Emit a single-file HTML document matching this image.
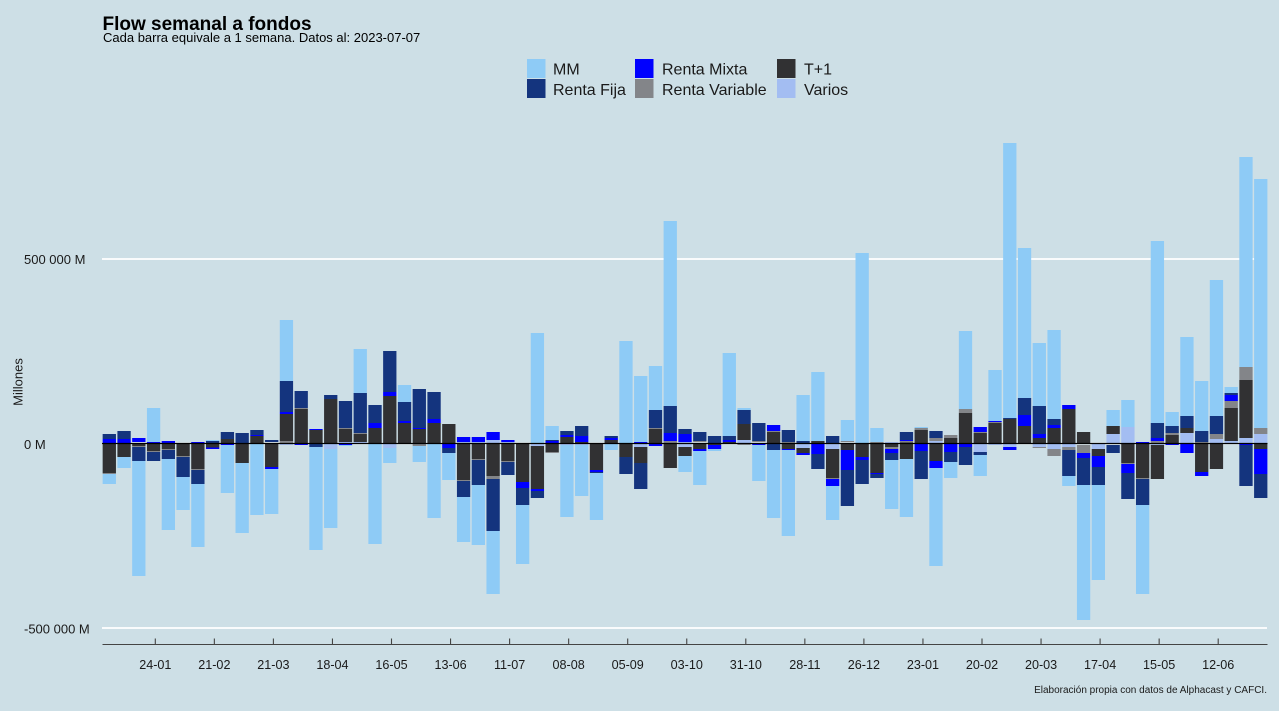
<!DOCTYPE html>
<html><head><meta charset="utf-8"><style>
html,body{margin:0;padding:0;background:#cddfe6;}
svg{display:block;font-family:"Liberation Sans",Arial,sans-serif;}
.m{fill:#8ecbf6}.f{fill:#14347e}.x{fill:#0000ff}.v{fill:#838589}.t{fill:#313133}.o{fill:#a3bdf2}
</style></head><body>
<svg width="1279" height="711" viewBox="0 0 1279 711" xmlns="http://www.w3.org/2000/svg">
<rect width="1279" height="711" fill="#cddfe6"/>
<text x="102.5" y="30" font-size="19" font-weight="bold" fill="#000">Flow semanal a fondos</text>
<text x="103" y="42" font-size="13" fill="#000">Cada barra equivale a 1 semana. Datos al: 2023-07-07</text>
<g font-size="16" fill="#1a1a1a">
<rect x="527" y="59" width="18.5" height="19" class="m"/><text x="553" y="74.5">MM</text>
<rect x="527" y="79" width="18.5" height="19" class="f"/><text x="553" y="95">Renta Fija</text>
<rect x="635" y="59" width="18.5" height="19" class="x"/><text x="662" y="74.5">Renta Mixta</text>
<rect x="635" y="79" width="18.5" height="19" class="v"/><text x="662" y="95">Renta Variable</text>
<rect x="777" y="59" width="18.5" height="19" class="t"/><text x="804" y="74.5">T+1</text>
<rect x="777" y="79" width="18.5" height="19" class="o"/><text x="804" y="95">Varios</text>
</g>
<g stroke="#ffffff" stroke-width="1.8">
<line x1="102" y1="259" x2="1267" y2="259"/>
<line x1="102" y1="443.5" x2="1267" y2="443.5"/>
<line x1="102" y1="628" x2="1267" y2="628"/>
</g>
<g font-size="13" fill="#1a1a1a">
<text x="24" y="264">500 000 M</text>
<text x="24" y="449">0 M</text>
<text x="24" y="633.5">-500 000 M</text>
</g>
<text transform="translate(22.5,382) rotate(-90)" text-anchor="middle" font-size="13" fill="#1a1a1a">Millones</text>
<g>
<g transform="translate(102.65,0)"><rect x="0" width="13.3" y="434" height="5" class="f"/><rect x="0" width="13.3" y="439" height="4.5" class="x"/><rect x="0" width="13.3" y="443.5" height="29.5" class="t"/><rect x="0" width="13.3" y="473" height="1" class="v"/><rect x="0" width="13.3" y="474" height="10" class="m"/></g>
<g transform="translate(117.41,0)"><rect x="0" width="13.3" y="431" height="8" class="f"/><rect x="0" width="13.3" y="439" height="4.5" class="x"/><rect x="0" width="13.3" y="443.5" height="13.5" class="t"/><rect x="0" width="13.3" y="457" height="11" class="m"/></g>
<g transform="translate(132.17,0)"><rect x="0" width="13.3" y="438" height="4" class="x"/><rect x="0" width="13.3" y="443.5" height="2.5" class="t"/><rect x="0" width="13.3" y="446" height="1" class="v"/><rect x="0" width="13.3" y="447" height="14" class="f"/><rect x="0" width="13.3" y="461" height="115" class="m"/></g>
<g transform="translate(146.94,0)"><rect x="0" width="13.3" y="408" height="34" class="m"/><rect x="0" width="13.3" y="442" height="1.5" class="x"/><rect x="0" width="13.3" y="443.5" height="7.5" class="t"/><rect x="0" width="13.3" y="451" height="1" class="v"/><rect x="0" width="13.3" y="452" height="9" class="f"/></g>
<g transform="translate(161.70,0)"><rect x="0" width="13.3" y="441" height="2.5" class="x"/><rect x="0" width="13.3" y="443.5" height="5.5" class="t"/><rect x="0" width="13.3" y="449" height="1" class="v"/><rect x="0" width="13.3" y="450" height="9" class="f"/><rect x="0" width="13.3" y="459" height="71" class="m"/></g>
<g transform="translate(176.46,0)"><rect x="0" width="13.3" y="443.5" height="12.5" class="t"/><rect x="0" width="13.3" y="456" height="1" class="v"/><rect x="0" width="13.3" y="457" height="20" class="f"/><rect x="0" width="13.3" y="477" height="33" class="m"/></g>
<g transform="translate(191.22,0)"><rect x="0" width="13.3" y="442" height="1.5" class="x"/><rect x="0" width="13.3" y="443.5" height="25.5" class="t"/><rect x="0" width="13.3" y="469" height="1" class="v"/><rect x="0" width="13.3" y="470" height="14" class="f"/><rect x="0" width="13.3" y="484" height="63" class="m"/></g>
<g transform="translate(205.98,0)"><rect x="0" width="13.3" y="440" height="1" class="m"/><rect x="0" width="13.3" y="441" height="2.5" class="f"/><rect x="0" width="13.3" y="444" height="3.5" class="t"/><rect x="0" width="13.3" y="447.5" height="1.5" class="x"/></g>
<g transform="translate(220.75,0)"><rect x="0" width="13.3" y="432" height="7" class="f"/><rect x="0" width="13.3" y="439" height="4.5" class="t"/><rect x="0" width="13.3" y="443.5" height="1.5" class="x"/><rect x="0" width="13.3" y="445" height="48" class="m"/></g>
<g transform="translate(235.51,0)"><rect x="0" width="13.3" y="433" height="10.5" class="f"/><rect x="0" width="13.3" y="444" height="19" class="t"/><rect x="0" width="13.3" y="463" height="70" class="m"/></g>
<g transform="translate(250.27,0)"><rect x="0" width="13.3" y="430" height="5" class="f"/><rect x="0" width="13.3" y="435" height="1" class="x"/><rect x="0" width="13.3" y="436" height="7.5" class="t"/><rect x="0" width="13.3" y="444" height="71" class="m"/></g>
<g transform="translate(265.03,0)"><rect x="0" width="13.3" y="440" height="2" class="f"/><rect x="0" width="13.3" y="443.5" height="23.5" class="t"/><rect x="0" width="13.3" y="467" height="2" class="x"/><rect x="0" width="13.3" y="469" height="45" class="m"/></g>
<g transform="translate(279.79,0)"><rect x="0" width="13.3" y="320" height="61" class="m"/><rect x="0" width="13.3" y="381" height="31" class="f"/><rect x="0" width="13.3" y="412" height="2" class="x"/><rect x="0" width="13.3" y="414" height="27" class="t"/><rect x="0" width="13.3" y="441" height="2.5" class="v"/><rect x="0" width="13.3" y="443.5" height="1.5" class="o"/></g>
<g transform="translate(294.56,0)"><rect x="0" width="13.3" y="391" height="17" class="f"/><rect x="0" width="13.3" y="408" height="1" class="v"/><rect x="0" width="13.3" y="409" height="34.5" class="t"/><rect x="0" width="13.3" y="443.5" height="1.5" class="x"/></g>
<g transform="translate(309.32,0)"><rect x="0" width="13.3" y="429" height="1" class="x"/><rect x="0" width="13.3" y="430" height="13.5" class="t"/><rect x="0" width="13.3" y="444" height="3" class="f"/><rect x="0" width="13.3" y="447" height="103" class="m"/></g>
<g transform="translate(324.08,0)"><rect x="0" width="13.3" y="395" height="4" class="f"/><rect x="0" width="13.3" y="399" height="44.5" class="t"/><rect x="0" width="13.3" y="443.5" height="5.5" class="o"/><rect x="0" width="13.3" y="449" height="79" class="m"/></g>
<g transform="translate(338.84,0)"><rect x="0" width="13.3" y="401" height="27" class="f"/><rect x="0" width="13.3" y="428" height="1" class="v"/><rect x="0" width="13.3" y="429" height="13" class="t"/><rect x="0" width="13.3" y="442" height="1.5" class="o"/><rect x="0" width="13.3" y="443.5" height="1.5" class="x"/><rect x="0" width="13.3" y="445" height="1" class="m"/></g>
<g transform="translate(353.60,0)"><rect x="0" width="13.3" y="349" height="44" class="m"/><rect x="0" width="13.3" y="393" height="40" class="f"/><rect x="0" width="13.3" y="433" height="1" class="v"/><rect x="0" width="13.3" y="434" height="8" class="t"/><rect x="0" width="13.3" y="442" height="1.5" class="o"/></g>
<g transform="translate(368.37,0)"><rect x="0" width="13.3" y="405" height="18" class="f"/><rect x="0" width="13.3" y="423" height="5" class="x"/><rect x="0" width="13.3" y="428" height="15.5" class="t"/><rect x="0" width="13.3" y="444" height="100" class="m"/></g>
<g transform="translate(383.13,0)"><rect x="0" width="13.3" y="351" height="41" class="f"/><rect x="0" width="13.3" y="392" height="4" class="x"/><rect x="0" width="13.3" y="396" height="47.5" class="t"/><rect x="0" width="13.3" y="443.5" height="4.5" class="o"/><rect x="0" width="13.3" y="448" height="15" class="m"/></g>
<g transform="translate(397.89,0)"><rect x="0" width="13.3" y="385" height="17" class="m"/><rect x="0" width="13.3" y="402" height="19" class="f"/><rect x="0" width="13.3" y="421" height="2" class="x"/><rect x="0" width="13.3" y="423" height="20.5" class="t"/></g>
<g transform="translate(412.65,0)"><rect x="0" width="13.3" y="389" height="39" class="f"/><rect x="0" width="13.3" y="428" height="1" class="x"/><rect x="0" width="13.3" y="429" height="14.5" class="t"/><rect x="0" width="13.3" y="444" height="2" class="v"/><rect x="0" width="13.3" y="446" height="16" class="m"/></g>
<g transform="translate(427.41,0)"><rect x="0" width="13.3" y="392" height="27" class="f"/><rect x="0" width="13.3" y="419" height="4" class="x"/><rect x="0" width="13.3" y="423" height="20.5" class="t"/><rect x="0" width="13.3" y="444" height="74" class="m"/></g>
<g transform="translate(442.18,0)"><rect x="0" width="13.3" y="424" height="19.5" class="t"/><rect x="0" width="13.3" y="444" height="4" class="x"/><rect x="0" width="13.3" y="448" height="5" class="f"/><rect x="0" width="13.3" y="453" height="27" class="m"/></g>
<g transform="translate(456.94,0)"><rect x="0" width="13.3" y="437" height="5" class="x"/><rect x="0" width="13.3" y="442" height="1.5" class="o"/><rect x="0" width="13.3" y="443.5" height="36.5" class="t"/><rect x="0" width="13.3" y="480" height="1" class="v"/><rect x="0" width="13.3" y="481" height="16" class="f"/><rect x="0" width="13.3" y="497" height="45" class="m"/></g>
<g transform="translate(471.70,0)"><rect x="0" width="13.3" y="437" height="5" class="x"/><rect x="0" width="13.3" y="442" height="1.5" class="o"/><rect x="0" width="13.3" y="443.5" height="15.5" class="t"/><rect x="0" width="13.3" y="459" height="1" class="v"/><rect x="0" width="13.3" y="460" height="25" class="f"/><rect x="0" width="13.3" y="485" height="60" class="m"/></g>
<g transform="translate(486.46,0)"><rect x="0" width="13.3" y="432" height="8" class="x"/><rect x="0" width="13.3" y="440" height="3.5" class="o"/><rect x="0" width="13.3" y="443.5" height="32.5" class="t"/><rect x="0" width="13.3" y="476" height="3" class="v"/><rect x="0" width="13.3" y="479" height="52" class="f"/><rect x="0" width="13.3" y="531" height="63" class="m"/></g>
<g transform="translate(501.22,0)"><rect x="0" width="13.3" y="440" height="2" class="x"/><rect x="0" width="13.3" y="442" height="1.5" class="o"/><rect x="0" width="13.3" y="443.5" height="17.5" class="t"/><rect x="0" width="13.3" y="461" height="1" class="v"/><rect x="0" width="13.3" y="462" height="13" class="f"/></g>
<g transform="translate(515.99,0)"><rect x="0" width="13.3" y="443.5" height="38.5" class="t"/><rect x="0" width="13.3" y="482" height="6" class="x"/><rect x="0" width="13.3" y="488" height="17" class="f"/><rect x="0" width="13.3" y="505" height="59" class="m"/></g>
<g transform="translate(530.75,0)"><rect x="0" width="13.3" y="333" height="110.5" class="m"/><rect x="0" width="13.3" y="443.5" height="2.5" class="o"/><rect x="0" width="13.3" y="446" height="43" class="t"/><rect x="0" width="13.3" y="489" height="2" class="x"/><rect x="0" width="13.3" y="491" height="7" class="f"/></g>
<g transform="translate(545.51,0)"><rect x="0" width="13.3" y="426" height="14" class="m"/><rect x="0" width="13.3" y="440" height="1" class="f"/><rect x="0" width="13.3" y="441" height="2.5" class="x"/><rect x="0" width="13.3" y="444" height="8" class="t"/><rect x="0" width="13.3" y="452" height="1" class="v"/></g>
<g transform="translate(560.27,0)"><rect x="0" width="13.3" y="431" height="4" class="f"/><rect x="0" width="13.3" y="435" height="2" class="x"/><rect x="0" width="13.3" y="437" height="6.5" class="t"/><rect x="0" width="13.3" y="443.5" height="1.5" class="o"/><rect x="0" width="13.3" y="445" height="72" class="m"/></g>
<g transform="translate(575.03,0)"><rect x="0" width="13.3" y="426" height="10" class="f"/><rect x="0" width="13.3" y="436" height="6" class="x"/><rect x="0" width="13.3" y="442" height="1.5" class="t"/><rect x="0" width="13.3" y="443.5" height="1.5" class="o"/><rect x="0" width="13.3" y="445" height="51" class="m"/></g>
<g transform="translate(589.80,0)"><rect x="0" width="13.3" y="443.5" height="26.5" class="t"/><rect x="0" width="13.3" y="470" height="2" class="x"/><rect x="0" width="13.3" y="472" height="1" class="f"/><rect x="0" width="13.3" y="473" height="47" class="m"/></g>
<g transform="translate(604.56,0)"><rect x="0" width="13.3" y="436" height="2" class="f"/><rect x="0" width="13.3" y="438" height="2" class="x"/><rect x="0" width="13.3" y="440" height="3.5" class="t"/><rect x="0" width="13.3" y="443.5" height="6.5" class="m"/></g>
<g transform="translate(619.32,0)"><rect x="0" width="13.3" y="341" height="102.5" class="m"/><rect x="0" width="13.3" y="443.5" height="13.5" class="t"/><rect x="0" width="13.3" y="457" height="17" class="f"/></g>
<g transform="translate(634.08,0)"><rect x="0" width="13.3" y="376" height="66" class="m"/><rect x="0" width="13.3" y="442" height="1.5" class="x"/><rect x="0" width="13.3" y="443.5" height="3.5" class="o"/><rect x="0" width="13.3" y="447" height="16" class="t"/><rect x="0" width="13.3" y="463" height="26" class="f"/></g>
<g transform="translate(648.84,0)"><rect x="0" width="13.3" y="366" height="44" class="m"/><rect x="0" width="13.3" y="410" height="18" class="f"/><rect x="0" width="13.3" y="428" height="1" class="v"/><rect x="0" width="13.3" y="429" height="14.5" class="t"/><rect x="0" width="13.3" y="444" height="2" class="x"/></g>
<g transform="translate(663.61,0)"><rect x="0" width="13.3" y="221" height="185" class="m"/><rect x="0" width="13.3" y="406" height="27" class="f"/><rect x="0" width="13.3" y="433" height="8" class="x"/><rect x="0" width="13.3" y="441" height="2.5" class="v"/><rect x="0" width="13.3" y="443.5" height="24.5" class="t"/></g>
<g transform="translate(678.37,0)"><rect x="0" width="13.3" y="429" height="5" class="f"/><rect x="0" width="13.3" y="434" height="8" class="x"/><rect x="0" width="13.3" y="442" height="5" class="o"/><rect x="0" width="13.3" y="447" height="9" class="t"/><rect x="0" width="13.3" y="456" height="16" class="m"/></g>
<g transform="translate(693.13,0)"><rect x="0" width="13.3" y="432" height="9" class="f"/><rect x="0" width="13.3" y="441" height="1" class="v"/><rect x="0" width="13.3" y="443.5" height="5.5" class="t"/><rect x="0" width="13.3" y="449" height="2" class="x"/><rect x="0" width="13.3" y="451" height="34" class="m"/></g>
<g transform="translate(707.89,0)"><rect x="0" width="13.3" y="436" height="7.5" class="f"/><rect x="0" width="13.3" y="443.5" height="1.5" class="t"/><rect x="0" width="13.3" y="445" height="4" class="x"/><rect x="0" width="13.3" y="449" height="2" class="m"/></g>
<g transform="translate(722.65,0)"><rect x="0" width="13.3" y="353" height="83" class="m"/><rect x="0" width="13.3" y="436" height="4" class="f"/><rect x="0" width="13.3" y="440" height="2" class="x"/><rect x="0" width="13.3" y="442" height="1.5" class="t"/></g>
<g transform="translate(737.42,0)"><rect x="0" width="13.3" y="408" height="2" class="m"/><rect x="0" width="13.3" y="410" height="14" class="f"/><rect x="0" width="13.3" y="424" height="16" class="t"/><rect x="0" width="13.3" y="440" height="3.5" class="o"/><rect x="0" width="13.3" y="443.5" height="1.5" class="v"/></g>
<g transform="translate(752.18,0)"><rect x="0" width="13.3" y="423" height="18" class="f"/><rect x="0" width="13.3" y="441" height="1" class="v"/><rect x="0" width="13.3" y="443.5" height="1.5" class="x"/><rect x="0" width="13.3" y="445" height="36" class="m"/></g>
<g transform="translate(766.94,0)"><rect x="0" width="13.3" y="425" height="6" class="x"/><rect x="0" width="13.3" y="431" height="1" class="v"/><rect x="0" width="13.3" y="432" height="11.5" class="t"/><rect x="0" width="13.3" y="443.5" height="6.5" class="f"/><rect x="0" width="13.3" y="450" height="68" class="m"/></g>
<g transform="translate(781.70,0)"><rect x="0" width="13.3" y="430" height="12" class="f"/><rect x="0" width="13.3" y="442" height="1.5" class="v"/><rect x="0" width="13.3" y="443.5" height="5.5" class="t"/><rect x="0" width="13.3" y="449" height="1" class="x"/><rect x="0" width="13.3" y="450" height="86" class="m"/></g>
<g transform="translate(796.46,0)"><rect x="0" width="13.3" y="395" height="46" class="m"/><rect x="0" width="13.3" y="441" height="2.5" class="f"/><rect x="0" width="13.3" y="443.5" height="4.5" class="o"/><rect x="0" width="13.3" y="448" height="5" class="t"/><rect x="0" width="13.3" y="453" height="2" class="x"/></g>
<g transform="translate(811.23,0)"><rect x="0" width="13.3" y="372" height="69" class="m"/><rect x="0" width="13.3" y="441" height="2.5" class="t"/><rect x="0" width="13.3" y="443.5" height="10.5" class="x"/><rect x="0" width="13.3" y="454" height="15" class="f"/></g>
<g transform="translate(825.99,0)"><rect x="0" width="13.3" y="436" height="7.5" class="f"/><rect x="0" width="13.3" y="443.5" height="5.5" class="o"/><rect x="0" width="13.3" y="449" height="29" class="t"/><rect x="0" width="13.3" y="478" height="1" class="v"/><rect x="0" width="13.3" y="479" height="7" class="x"/><rect x="0" width="13.3" y="486" height="34" class="m"/></g>
<g transform="translate(840.75,0)"><rect x="0" width="13.3" y="420" height="21" class="m"/><rect x="0" width="13.3" y="441" height="1" class="v"/><rect x="0" width="13.3" y="443.5" height="6.5" class="t"/><rect x="0" width="13.3" y="450" height="20" class="x"/><rect x="0" width="13.3" y="470" height="36" class="f"/></g>
<g transform="translate(855.51,0)"><rect x="0" width="13.3" y="253" height="190.5" class="m"/><rect x="0" width="13.3" y="443.5" height="13.5" class="t"/><rect x="0" width="13.3" y="457" height="3" class="x"/><rect x="0" width="13.3" y="460" height="24" class="f"/></g>
<g transform="translate(870.27,0)"><rect x="0" width="13.3" y="428" height="14" class="m"/><rect x="0" width="13.3" y="442" height="1.5" class="v"/><rect x="0" width="13.3" y="444" height="29" class="t"/><rect x="0" width="13.3" y="473" height="1" class="x"/><rect x="0" width="13.3" y="474" height="4" class="f"/></g>
<g transform="translate(885.04,0)"><rect x="0" width="13.3" y="442" height="1.5" class="o"/><rect x="0" width="13.3" y="443.5" height="3.5" class="t"/><rect x="0" width="13.3" y="447" height="2" class="v"/><rect x="0" width="13.3" y="449" height="4" class="x"/><rect x="0" width="13.3" y="453" height="7" class="f"/><rect x="0" width="13.3" y="460" height="49" class="m"/></g>
<g transform="translate(899.80,0)"><rect x="0" width="13.3" y="432" height="8" class="f"/><rect x="0" width="13.3" y="440" height="1" class="x"/><rect x="0" width="13.3" y="441" height="1.5" class="v"/><rect x="0" width="13.3" y="442.5" height="16.5" class="t"/><rect x="0" width="13.3" y="459" height="58" class="m"/></g>
<g transform="translate(914.56,0)"><rect x="0" width="13.3" y="427" height="1" class="m"/><rect x="0" width="13.3" y="428" height="2" class="v"/><rect x="0" width="13.3" y="430" height="13.5" class="t"/><rect x="0" width="13.3" y="444" height="7" class="x"/><rect x="0" width="13.3" y="451" height="28" class="f"/></g>
<g transform="translate(929.32,0)"><rect x="0" width="13.3" y="431" height="7" class="f"/><rect x="0" width="13.3" y="438" height="3" class="v"/><rect x="0" width="13.3" y="441" height="2.5" class="o"/><rect x="0" width="13.3" y="443.5" height="17.5" class="t"/><rect x="0" width="13.3" y="461" height="7" class="x"/><rect x="0" width="13.3" y="468" height="98" class="m"/></g>
<g transform="translate(944.08,0)"><rect x="0" width="13.3" y="435" height="3" class="v"/><rect x="0" width="13.3" y="438" height="5.5" class="t"/><rect x="0" width="13.3" y="444" height="8" class="x"/><rect x="0" width="13.3" y="452" height="10" class="f"/><rect x="0" width="13.3" y="462" height="16" class="m"/></g>
<g transform="translate(958.85,0)"><rect x="0" width="13.3" y="331" height="78" class="m"/><rect x="0" width="13.3" y="409" height="4" class="v"/><rect x="0" width="13.3" y="413" height="30.5" class="t"/><rect x="0" width="13.3" y="443.5" height="3.5" class="x"/><rect x="0" width="13.3" y="447" height="18" class="f"/></g>
<g transform="translate(973.61,0)"><rect x="0" width="13.3" y="427" height="5" class="x"/><rect x="0" width="13.3" y="432" height="1" class="v"/><rect x="0" width="13.3" y="433" height="10.5" class="t"/><rect x="0" width="13.3" y="444" height="8" class="o"/><rect x="0" width="13.3" y="452" height="3" class="f"/><rect x="0" width="13.3" y="455" height="21" class="m"/></g>
<g transform="translate(988.37,0)"><rect x="0" width="13.3" y="370" height="51" class="m"/><rect x="0" width="13.3" y="421" height="1" class="x"/><rect x="0" width="13.3" y="422" height="1" class="v"/><rect x="0" width="13.3" y="423" height="20.5" class="t"/><rect x="0" width="13.3" y="443.5" height="1.5" class="o"/></g>
<g transform="translate(1003.13,0)"><rect x="0" width="13.3" y="143" height="275" class="m"/><rect x="0" width="13.3" y="418" height="1" class="f"/><rect x="0" width="13.3" y="419" height="24.5" class="t"/><rect x="0" width="13.3" y="444" height="3" class="o"/><rect x="0" width="13.3" y="447" height="3" class="x"/></g>
<g transform="translate(1017.89,0)"><rect x="0" width="13.3" y="248" height="150" class="m"/><rect x="0" width="13.3" y="398" height="17" class="f"/><rect x="0" width="13.3" y="415" height="11" class="x"/><rect x="0" width="13.3" y="426" height="17.5" class="t"/></g>
<g transform="translate(1032.66,0)"><rect x="0" width="13.3" y="343" height="63" class="m"/><rect x="0" width="13.3" y="406" height="28" class="f"/><rect x="0" width="13.3" y="434" height="4" class="x"/><rect x="0" width="13.3" y="438" height="5.5" class="t"/><rect x="0" width="13.3" y="443.5" height="3.5" class="o"/><rect x="0" width="13.3" y="447" height="1" class="v"/></g>
<g transform="translate(1047.42,0)"><rect x="0" width="13.3" y="330" height="89" class="m"/><rect x="0" width="13.3" y="419" height="6" class="f"/><rect x="0" width="13.3" y="425" height="3" class="x"/><rect x="0" width="13.3" y="428" height="15.5" class="t"/><rect x="0" width="13.3" y="444" height="5" class="o"/><rect x="0" width="13.3" y="449" height="7" class="v"/></g>
<g transform="translate(1062.18,0)"><rect x="0" width="13.3" y="405" height="4" class="x"/><rect x="0" width="13.3" y="409" height="34.5" class="t"/><rect x="0" width="13.3" y="443.5" height="3.5" class="o"/><rect x="0" width="13.3" y="447" height="3" class="v"/><rect x="0" width="13.3" y="450" height="26" class="f"/><rect x="0" width="13.3" y="476" height="10" class="m"/></g>
<g transform="translate(1076.94,0)"><rect x="0" width="13.3" y="432" height="11.5" class="t"/><rect x="0" width="13.3" y="445" height="8" class="v"/><rect x="0" width="13.3" y="453" height="5" class="x"/><rect x="0" width="13.3" y="458" height="27" class="f"/><rect x="0" width="13.3" y="485" height="135" class="m"/></g>
<g transform="translate(1091.70,0)"><rect x="0" width="13.3" y="444" height="5" class="o"/><rect x="0" width="13.3" y="449" height="7" class="t"/><rect x="0" width="13.3" y="456" height="11" class="x"/><rect x="0" width="13.3" y="467" height="18" class="f"/><rect x="0" width="13.3" y="485" height="95" class="m"/></g>
<g transform="translate(1106.47,0)"><rect x="0" width="13.3" y="410" height="16" class="m"/><rect x="0" width="13.3" y="426" height="8" class="t"/><rect x="0" width="13.3" y="434" height="9.5" class="o"/><rect x="0" width="13.3" y="445" height="8" class="f"/></g>
<g transform="translate(1121.23,0)"><rect x="0" width="13.3" y="400" height="27" class="m"/><rect x="0" width="13.3" y="427" height="16.5" class="o"/><rect x="0" width="13.3" y="443.5" height="19.5" class="t"/><rect x="0" width="13.3" y="463" height="1" class="v"/><rect x="0" width="13.3" y="464" height="9" class="x"/><rect x="0" width="13.3" y="473" height="26" class="f"/></g>
<g transform="translate(1135.99,0)"><rect x="0" width="13.3" y="442" height="1.5" class="x"/><rect x="0" width="13.3" y="443.5" height="34.5" class="t"/><rect x="0" width="13.3" y="478" height="1" class="v"/><rect x="0" width="13.3" y="479" height="26" class="f"/><rect x="0" width="13.3" y="505" height="89" class="m"/></g>
<g transform="translate(1150.75,0)"><rect x="0" width="13.3" y="241" height="182" class="m"/><rect x="0" width="13.3" y="423" height="15" class="f"/><rect x="0" width="13.3" y="438" height="3" class="x"/><rect x="0" width="13.3" y="441" height="2.5" class="v"/><rect x="0" width="13.3" y="443.5" height="1.5" class="o"/><rect x="0" width="13.3" y="445" height="34" class="t"/></g>
<g transform="translate(1165.51,0)"><rect x="0" width="13.3" y="412" height="14" class="m"/><rect x="0" width="13.3" y="426" height="7" class="f"/><rect x="0" width="13.3" y="433" height="2" class="v"/><rect x="0" width="13.3" y="435" height="8.5" class="t"/><rect x="0" width="13.3" y="443.5" height="1.5" class="x"/></g>
<g transform="translate(1180.28,0)"><rect x="0" width="13.3" y="337" height="79" class="m"/><rect x="0" width="13.3" y="416" height="12" class="f"/><rect x="0" width="13.3" y="428" height="5" class="t"/><rect x="0" width="13.3" y="433" height="10.5" class="o"/><rect x="0" width="13.3" y="443.5" height="9.5" class="x"/></g>
<g transform="translate(1195.04,0)"><rect x="0" width="13.3" y="381" height="50" class="m"/><rect x="0" width="13.3" y="431" height="11" class="f"/><rect x="0" width="13.3" y="442" height="1.5" class="v"/><rect x="0" width="13.3" y="443.5" height="28.5" class="t"/><rect x="0" width="13.3" y="472" height="4" class="x"/></g>
<g transform="translate(1209.80,0)"><rect x="0" width="13.3" y="280" height="136" class="m"/><rect x="0" width="13.3" y="416" height="18" class="f"/><rect x="0" width="13.3" y="434" height="5" class="v"/><rect x="0" width="13.3" y="439" height="4.5" class="o"/><rect x="0" width="13.3" y="443.5" height="25.5" class="t"/></g>
<g transform="translate(1224.56,0)"><rect x="0" width="13.3" y="387" height="6" class="m"/><rect x="0" width="13.3" y="393" height="2" class="f"/><rect x="0" width="13.3" y="395" height="6" class="x"/><rect x="0" width="13.3" y="401" height="7" class="v"/><rect x="0" width="13.3" y="408" height="33" class="t"/><rect x="0" width="13.3" y="441" height="2.5" class="o"/></g>
<g transform="translate(1239.32,0)"><rect x="0" width="13.3" y="157" height="210" class="m"/><rect x="0" width="13.3" y="367" height="13" class="v"/><rect x="0" width="13.3" y="380" height="58" class="t"/><rect x="0" width="13.3" y="438" height="5.5" class="o"/><rect x="0" width="13.3" y="443.5" height="1.5" class="x"/><rect x="0" width="13.3" y="445" height="41" class="f"/></g>
<g transform="translate(1254.09,0)"><rect x="0" width="13.3" y="179" height="249" class="m"/><rect x="0" width="13.3" y="428" height="6" class="v"/><rect x="0" width="13.3" y="434" height="9.5" class="o"/><rect x="0" width="13.3" y="443.5" height="5.5" class="t"/><rect x="0" width="13.3" y="449" height="25" class="x"/><rect x="0" width="13.3" y="474" height="24" class="f"/></g>
</g>
<line x1="102" y1="443.5" x2="1267.5" y2="443.5" stroke="#000" stroke-width="1.3"/>
<line x1="102.5" y1="644.5" x2="1267.5" y2="644.5" stroke="#444" stroke-width="1.1"/>
<g stroke="#444" stroke-width="1.1">
<line x1="155.3" y1="638.5" x2="155.3" y2="644.5"/><line x1="214.35" y1="638.5" x2="214.35" y2="644.5"/><line x1="273.4" y1="638.5" x2="273.4" y2="644.5"/><line x1="332.45" y1="638.5" x2="332.45" y2="644.5"/><line x1="391.5" y1="638.5" x2="391.5" y2="644.5"/><line x1="450.55" y1="638.5" x2="450.55" y2="644.5"/><line x1="509.6" y1="638.5" x2="509.6" y2="644.5"/><line x1="568.65" y1="638.5" x2="568.65" y2="644.5"/><line x1="627.7" y1="638.5" x2="627.7" y2="644.5"/><line x1="686.75" y1="638.5" x2="686.75" y2="644.5"/><line x1="745.8" y1="638.5" x2="745.8" y2="644.5"/><line x1="804.85" y1="638.5" x2="804.85" y2="644.5"/><line x1="863.9" y1="638.5" x2="863.9" y2="644.5"/><line x1="922.95" y1="638.5" x2="922.95" y2="644.5"/><line x1="982" y1="638.5" x2="982" y2="644.5"/><line x1="1041.05" y1="638.5" x2="1041.05" y2="644.5"/><line x1="1100.1" y1="638.5" x2="1100.1" y2="644.5"/><line x1="1159.15" y1="638.5" x2="1159.15" y2="644.5"/><line x1="1218.2" y1="638.5" x2="1218.2" y2="644.5"/>
</g>
<g font-size="12.6" fill="#1a1a1a" text-anchor="middle">
<text x="155.3" y="669">24-01</text><text x="214.35" y="669">21-02</text><text x="273.4" y="669">21-03</text><text x="332.45" y="669">18-04</text><text x="391.5" y="669">16-05</text><text x="450.55" y="669">13-06</text><text x="509.6" y="669">11-07</text><text x="568.65" y="669">08-08</text><text x="627.7" y="669">05-09</text><text x="686.75" y="669">03-10</text><text x="745.8" y="669">31-10</text><text x="804.85" y="669">28-11</text><text x="863.9" y="669">26-12</text><text x="922.95" y="669">23-01</text><text x="982" y="669">20-02</text><text x="1041.05" y="669">20-03</text><text x="1100.1" y="669">17-04</text><text x="1159.15" y="669">15-05</text><text x="1218.2" y="669">12-06</text>
</g>
<text x="1267" y="693" font-size="10" text-anchor="end" fill="#1a1a1a">Elaboración propia con datos de Alphacast y CAFCI.</text>
</svg>
</body></html>
